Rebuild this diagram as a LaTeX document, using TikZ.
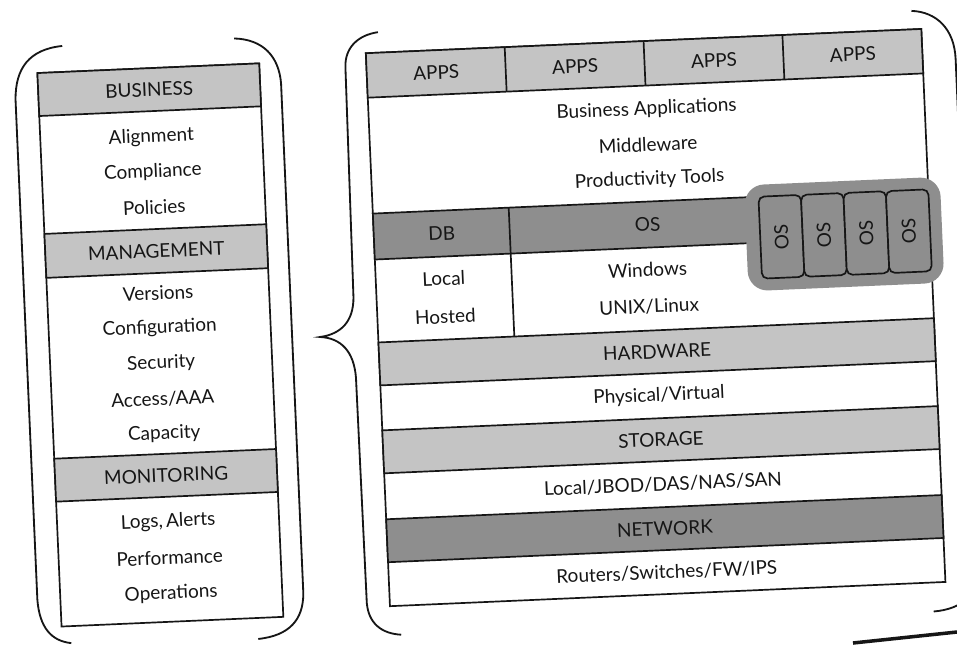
\documentclass[tikz,border=0pt]{standalone}
\usepackage{fontspec}
\setmainfont{Lato}
\usetikzlibrary{positioning}
\definecolor{bandlight}{HTML}{C4C4C4}
\definecolor{banddark}{HTML}{8E8E8E}
\definecolor{inkblack}{HTML}{161616}

\tikzset{
  layer/.style={draw=inkblack, line width=1.2pt},
  lightband/.style={layer, fill=bandlight},
  darkband/.style={layer, fill=banddark},
  frame/.style={draw=inkblack, line width=1.3pt},
  txt/.style={font=\fontsize{13.5}{15}\selectfont, text=inkblack, inner sep=1pt},
}

\begin{document}
\begin{tikzpicture}[x=0.025cm, y=-0.025cm]

% Canvas
\useasboundingbox (0,0) rectangle (957,644);
\clip (0,0) rectangle (957,644);
\fill[white] (0,0) rectangle (957,644);

% the scanned page sits slightly tilted
\begin{scope}[rotate around={2.5:(480,330)}, transform shape]

% --- Left stack: governance layers ---
\draw[layer] (49,54) rectangle (271,608);
\filldraw[lightband] (49,54) rectangle (271,97);
\filldraw[lightband] (49,215) rectangle (271,259);
\filldraw[lightband] (49,440) rectangle (271,483);

\node[txt] (business) at (160,75.5) {BUSINESS};
\node[txt] (alignment) at (160,123) {Alignment};
\node[txt] (compliance) at (160,158) {Compliance};
\node[txt] (policies) at (160,193) {Policies};

\node[txt] (management) at (160,237) {MANAGEMENT};
\node[txt] (versions) at (160,279) {Versions};
\node[txt] (config) at (160,314) {Configuration};
\node[txt] (security) at (160,349.5) {Security};
\node[txt] (access) at (160,385) {Access/AAA};
\node[txt] (capacity) at (160,420) {Capacity};

\node[txt] (monitoring) at (160,461.5) {MONITORING};
\node[txt] (logs) at (160,508) {Logs,\,Alerts};
\node[txt] (performance) at (160,544) {Performance};
\node[txt] (operations) at (160,580) {Operations};

% --- Right stack: technology layers ---
\draw[layer] (378,48.5) rectangle (934,602);
\filldraw[lightband] (378,48.5) rectangle (934,93);
\foreach \x in {517,656,795}
  \draw[layer] (\x,48.5) -- (\x,93);
\filldraw[darkband] (378,209) rectangle (934,255);
\draw[layer] (514,209) -- (514,338);
\filldraw[lightband] (378,338) rectangle (934,381);
\filldraw[lightband] (378,426) rectangle (934,469);
\filldraw[darkband] (378,515) rectangle (934,558);

% virtual OS instances
\fill[banddark, rounded corners=14] (750,197) rectangle (946,303);
\foreach \i in {0,...,3} {
  \filldraw[darkband, rounded corners=4] ({764+42.5*\i},209) rectangle ({806.5+42.5*\i},291);
  \node[txt, rotate=90] (vos\i) at ({785.25+42.5*\i},250) {OS};
}

\foreach \x [count=\n] in {447.5,586.5,725.5,864.5}
  \node[txt] (apps\n) at (\x,70.75) {APPS};
\node[txt] (bizapps) at (656,117) {Business Applications};
\node[txt] (middleware) at (656,152) {Middleware};
\node[txt] (productivity) at (656,187) {Productivity Tools};

\node[txt] (db) at (446,232) {DB};
\node[txt] (os) at (652,232) {OS};
\node[txt] (local) at (446,277) {Local};
\node[txt] (hosted) at (446,315) {Hosted};
\node[txt] (windows) at (650,277) {Windows};
\node[txt] (unix) at (650,314) {UNIX/Linux};

\node[txt] (hardware) at (656,359.5) {HARDWARE};
\node[txt] (physical) at (656,403.5) {Physical/Virtual};
\node[txt] (storage) at (656,447.5) {STORAGE};
\node[txt] (disks) at (656,492) {Local/JBOD/DAS/NAS/SAN};
\node[txt] (network) at (656,536.5) {NETWORK};
\node[txt] (routers) at (656,580) {Routers/Switches/FW/IPS};

% --- Brackets round the two stacks ---
\draw[frame] (75,28) .. controls (42,30) and (27,48) .. (26,80)
  -- (26,580) .. controls (27,608) and (38,622) .. (58,625);
\draw[frame] (247,28) .. controls (276,30) and (291,48) .. (292,75)
  -- (292,585) .. controls (291,612) and (276,627) .. (245,629);
\draw[frame] (391,28) .. controls (371,30) and (357,42) .. (357,62)
  -- (355,292) .. controls (354,316) and (341,328) .. (320,330)
  .. controls (341,332) and (353,346) .. (354,372)
  -- (355,598) .. controls (356,618) and (368,629) .. (388,631);
\draw[frame] (925,30) .. controls (950,32) and (967,50) .. (967,80)
  -- (967,590) .. controls (967,615) and (950,630) .. (921,631);

\end{scope}

% page edge of the scan
\draw[inkblack, line width=2.5pt] (853,643) -- (957,632);

\end{tikzpicture}
\end{document}
